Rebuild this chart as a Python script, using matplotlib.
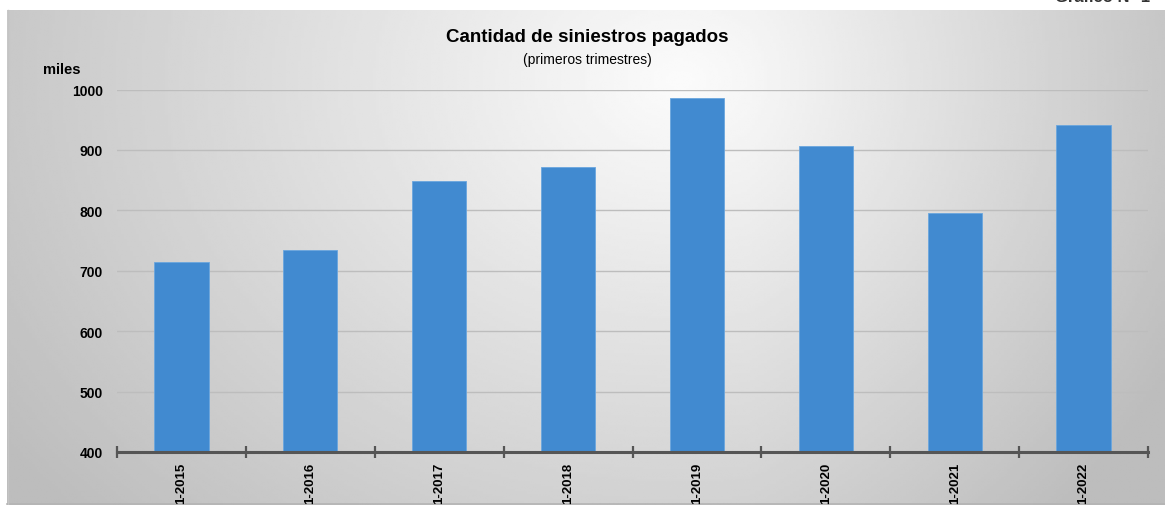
import numpy as np
import matplotlib
matplotlib.use("Agg")
import matplotlib.pyplot as plt

plt.rcParams["font.family"] = ["Liberation Sans Narrow", "Liberation Sans", "DejaVu Sans"]

periodos = ["1-2015", "1-2016", "1-2017", "1-2018", "1-2019", "1-2020", "1-2021", "1-2022"]
siniestros = [714, 735, 849, 872, 986, 906, 796, 942]
y_ticks = [400, 500, 600, 700, 800, 900, 1000]

W, H = 1165, 506
fig = plt.figure(figsize=(W / 100, H / 100), dpi=100)
fig.patch.set_facecolor("white")

# fondo gris con degradado (panel del grafico)
px0, py0 = 7, 11
bg = fig.add_axes([px0 / W, 0, 1 - px0 / W, 1 - py0 / H])
gx, gy = np.meshgrid(np.linspace(px0, W, 400), np.linspace(py0, H, 200))
r = np.sqrt(((gx - 680) / 640) ** 2 + ((gy - 80) / 500) ** 2)
val = 0.985 - 0.19 * r - 0.06 * np.clip((gx - 750) / 410, 0, 1)
val = np.clip(val, 0.74, 0.985)
bg.imshow(val, cmap="gray", vmin=0, vmax=1, aspect="auto",
          extent=[0, 1, 1, 0], interpolation="bilinear")
bg.set_xlim(0, 1)
bg.set_ylim(1, 0)
bg.axis("off")
bg.plot([0, 1], [0.002, 0.002], color="#b4b4b4", lw=1.2, transform=bg.transAxes, clip_on=False)
bg.plot([0.001, 0.001], [0, 1], color="#c4c4c4", lw=1.0, transform=bg.transAxes, clip_on=False)

ax = fig.add_axes([117 / W, 1 - 453 / H, (1148 - 117) / W, (453 - 90.5) / H])
ax.set_facecolor("none")
x = np.arange(len(periodos))
ax.bar(x, siniestros, width=0.42, bottom=0, color="#418ad0", edgecolor="#6aa6de",
       linewidth=0.6, zorder=3)
ax.set_ylim(400, 1000)
ax.set_xlim(-0.5, len(periodos) - 0.5)

ax.set_yticks(y_ticks)
ax.set_yticklabels([str(v) for v in y_ticks], fontsize=10, fontweight="bold")
ax.tick_params(axis="y", length=0, pad=10)
for v in y_ticks[1:]:
    ax.axhline(v, color="#bdbdbd", lw=1.0, zorder=1)

ax.set_xticks(x)
ax.set_xticklabels(periodos, rotation=90, fontsize=9.5, fontweight="bold")
ax.tick_params(axis="x", which="major", length=0, pad=7)
ax.set_xticks(np.arange(-0.5, len(periodos)), minor=True)
ax.tick_params(axis="x", which="minor", direction="inout", length=9, width=1.6, color="#555555")

for s in ["top", "right", "left"]:
    ax.spines[s].set_visible(False)
ax.spines["bottom"].set_color("#555555")
ax.spines["bottom"].set_linewidth(2.2)
ax.spines["bottom"].set_zorder(4)

fig.text(587 / W, 1 - 38 / H, "Cantidad de siniestros pagados", ha="center", va="center",
         fontsize=13.5, fontweight="bold")
fig.text(587 / W, 1 - 60 / H, "(primeros trimestres)", ha="center", va="center", fontsize=10)
fig.text(43 / W, 1 - 70 / H, "miles", ha="left", va="center", fontsize=10.5, fontweight="bold")
fig.text(1150 / W, 1 + 3 / H, "Gráfico N° 1", ha="right", va="center", fontsize=12,
         fontweight="bold", color="#333333")

fig.savefig("out.png", dpi=100)
